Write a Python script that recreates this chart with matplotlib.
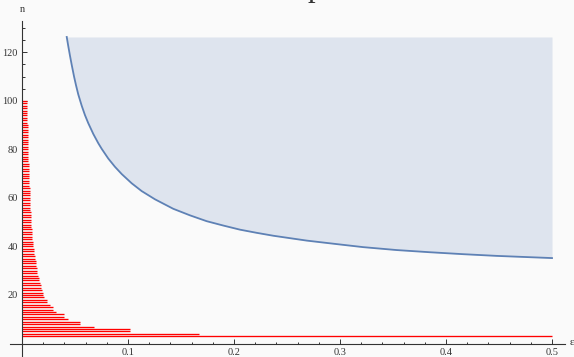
import numpy as np
import matplotlib
matplotlib.use('Agg')
import matplotlib.pyplot as plt

# boundary curve n(eps)
eps_curve = [0.0422, 0.0437, 0.0453, 0.0469, 0.0491, 0.0509, 0.0531, 0.0563,
             0.0594, 0.0625, 0.0673, 0.0720, 0.0752, 0.0814, 0.0877, 0.0941,
             0.1035, 0.1129, 0.1255, 0.1427, 0.1585, 0.1742, 0.1899, 0.2057,
             0.2214, 0.2371, 0.2528, 0.2686, 0.2842, 0.3000, 0.3220, 0.3535,
             0.3849, 0.4163, 0.4478, 0.5000]
n_curve = [126.3, 122.4, 118.5, 114.8, 110.0, 106.5, 102.6, 98.0,
           94.1, 90.8, 86.3, 82.5, 80.2, 76.2, 72.8, 69.8,
           66.0, 62.8, 59.4, 55.5, 52.8, 50.4, 48.6, 46.9,
           45.6, 44.4, 43.4, 42.4, 41.6, 40.8, 39.7, 38.5,
           37.6, 36.8, 36.1, 35.2]
n_top = 126.3

# horizontal red lines: one per n
bar_n = list(range(3, 101))
bar_len = [0.5, 0.167, 0.102, 0.102, 0.068, 0.055, 0.055, 0.043, 0.040, 0.040,
           0.032, 0.029, 0.029, 0.026, 0.024, 0.024, 0.021, 0.020, 0.020, 0.019,
           0.018, 0.018, 0.017, 0.016, 0.016, 0.015, 0.0145, 0.0145, 0.0138, 0.0135,
           0.0132, 0.0128, 0.0122, 0.0119, 0.0115, 0.0112, 0.0110, 0.0107, 0.0104, 0.0101,
           0.0099, 0.0097, 0.0095, 0.0093, 0.0091, 0.0089, 0.0087, 0.0086, 0.0085, 0.0083,
           0.0082, 0.0081, 0.0080, 0.0079, 0.0078, 0.0077, 0.0076, 0.0075, 0.0074, 0.0073,
           0.0072, 0.0071, 0.0070, 0.0069, 0.0068, 0.0067, 0.0066, 0.0065, 0.0064, 0.0063,
           0.0062, 0.0062, 0.0061, 0.0060, 0.0059, 0.0058, 0.0058, 0.0057, 0.0056, 0.0056,
           0.0055, 0.0055, 0.0054, 0.0054, 0.0053, 0.0053, 0.0052, 0.0052, 0.0051, 0.0051,
           0.0050, 0.0050, 0.0049, 0.0049, 0.0048, 0.0048, 0.0047, 0.0047]

xticks = [0.1, 0.2, 0.3, 0.4, 0.5]
yticks = [20, 40, 60, 80, 100, 120]

plt.rcParams['font.family'] = ['Liberation Serif', 'DejaVu Serif']

fig = plt.figure(figsize=(5.74, 3.57), dpi=100, facecolor='#fafafa')
ax = fig.add_axes([0, 0, 1, 1])
ax.set_facecolor('#fafafa')
ax.set_xlim(-22/1060., 552/1060.)
ax.set_ylim(-13.5/2.427, 343.5/2.427)

ax.fill_between(eps_curve, n_curve, n_top, color='#dee4ee', lw=0)
ax.plot(eps_curve, n_curve, color='#5e81b5', lw=1.3, solid_joinstyle='round')

ax.hlines(bar_n, 0, bar_len, colors='#ff0000', lw=0.95)

for s in ['top', 'right']:
    ax.spines[s].set_visible(False)
ax.spines['left'].set_position(('data', 0))
ax.spines['bottom'].set_position(('data', 0))
ax.spines['left'].set_bounds(-5.6, 133)
ax.spines['bottom'].set_bounds(-0.0113, 0.5127)
for s in ['left', 'bottom']:
    ax.spines[s].set_color('#333333')
    ax.spines[s].set_linewidth(0.8)

ax.set_xticks(xticks)
ax.set_xticklabels([str(t) for t in xticks])
ax.set_xticks(np.arange(0.02, 0.501, 0.02), minor=True)
ax.set_yticks(yticks)
ax.set_yticklabels([str(t) for t in yticks])
ax.set_yticks(np.arange(5, 131, 5), minor=True)
ax.tick_params(which='both', direction='in', color='#333333', width=0.7,
               labelsize=7.5, labelcolor='#333333')
ax.tick_params(which='major', length=3.5, pad=3)
ax.tick_params(which='minor', length=1.8)

ax.text(0.0, 137.5, 'n', ha='center', va='center', fontsize=7.5, color='#333333')
ax.text(0.5165, 0.5, '\u03b5', ha='left', va='center', fontsize=8, color='#333333')
fig.text(308/574., 1 + 4/357., 'p', ha='left', va='baseline', fontsize=22, color='#333333')

fig.savefig('out.png', dpi=100, facecolor='#fafafa')
